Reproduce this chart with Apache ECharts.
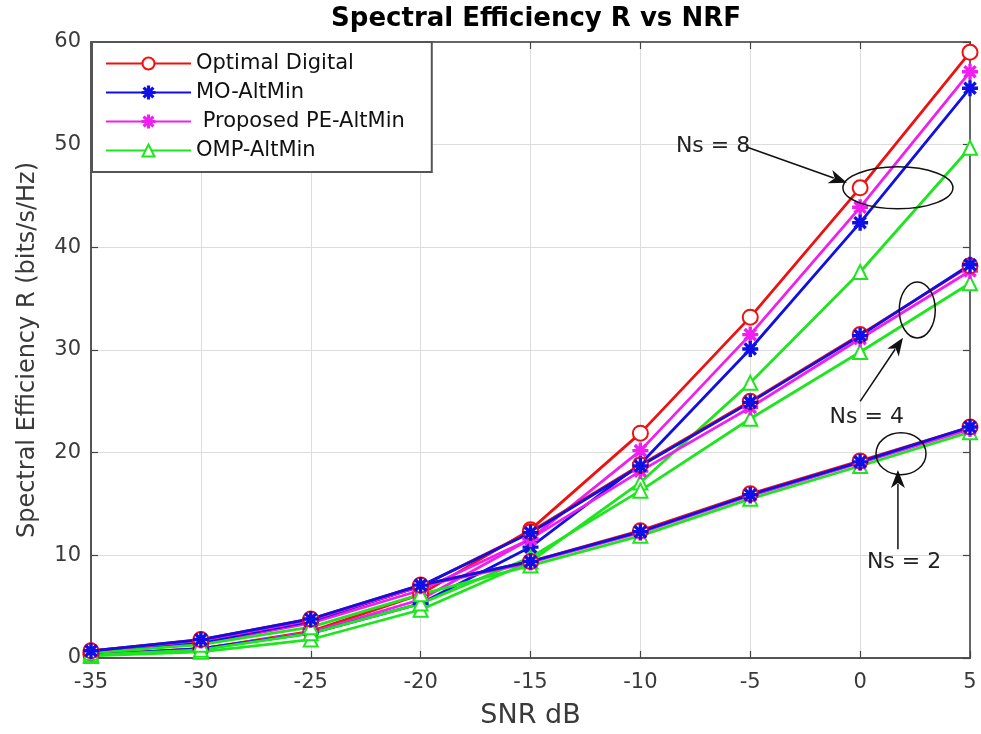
<!DOCTYPE html>
<html lang="en">
<head>
<meta charset="UTF-8">
<title>Spectral Efficiency R vs NRF</title>
<script src="https://cdn.jsdelivr.net/npm/echarts@6.0.0/dist/echarts.min.js"></script>
<style>html,body{margin:0;background:#fff}</style>
</head>
<body>
<div id="main" style="width:981px;height:734px;"></div>
<script>
// SNR points (dB)
const snr = [-35, -30, -25, -20, -15, -10, -5, 0, 5];
const methods = ['Optimal Digital', 'MO-AltMin', ' Proposed PE-AltMin', 'OMP-AltMin'];

// Ns = 8
const od8  = [0.3, 0.9, 2.6, 6.2, 12.5, 21.9, 33.2, 45.8, 59.0];
const mo8  = [0.3, 0.9, 2.4, 5.3, 10.8, 18.9, 30.1, 42.4, 55.5];
const pe8  = [0.3, 0.9, 2.5, 5.7, 11.6, 20.2, 31.5, 43.9, 57.1];
const omp8 = [0.2, 0.6, 1.8, 4.7, 9.4, 17.1, 26.8, 37.6, 49.7];
// Ns = 4
const od4  = [0.5, 1.5, 3.6, 7.0, 12.3, 18.8, 25.0, 31.5, 38.2];
const mo4  = [0.5, 1.5, 3.6, 7.0, 12.2, 18.7, 24.9, 31.4, 38.3];
const pe4  = [0.5, 1.4, 3.4, 6.6, 11.6, 18.2, 24.4, 31.1, 37.7];
const omp4 = [0.3, 0.8, 2.4, 5.3, 9.8, 16.3, 23.3, 29.8, 36.5];
// Ns = 2
const od2  = [0.7, 1.8, 3.8, 7.1, 9.4, 12.4, 16.0, 19.2, 22.5];
const mo2  = [0.7, 1.8, 3.8, 7.1, 9.4, 12.3, 15.9, 19.1, 22.5];
const pe2  = [0.7, 1.7, 3.7, 7.0, 9.3, 12.2, 15.8, 19.0, 22.3];
const omp2 = [0.5, 1.3, 3.0, 6.2, 9.0, 11.9, 15.5, 18.7, 22.0];

const yTicks = [0, 10, 20, 30, 40, 50, 60];

const colors = ['#f01010', '#1010e6', '#f01ff0', '#1ee61e'];
const star = 'path://M-1,-10L1,-10L1,10L-1,10Z M-10,-1L10,-1L10,1L-10,1Z ' +
    'M-7.7,-6.3L-6.3,-7.7L7.7,6.3L6.3,7.7Z M6.3,-7.7L7.7,-6.3L-6.3,7.7L-7.7,6.3Z';
const symbols = ['emptyCircle', star, star, 'emptyTriangle'];

const font = "'DejaVu Sans', sans-serif";

function mk(i, vals) {
    return {
        name: methods[i],
        type: 'line',
        data: snr.map((x, k) => [x, vals[k]]),
        symbol: symbols[i],
        symbolSize: i === 0 ? 15 : 14,
        lineStyle: {color: colors[i], width: 2.8},
        itemStyle: {color: colors[i], borderColor: colors[i], borderWidth: 2},
        emphasis: {disabled: true},
        z: 3
    };
}

const series = [
    mk(0, od8), mk(2, pe8), mk(1, mo8), mk(3, omp8),
    mk(3, omp4), mk(2, pe4), mk(0, od4), mk(1, mo4),
    mk(3, omp2), mk(2, pe2), mk(0, od2), mk(1, mo2)
];

const axisText = {color: '#3a3a3a', fontSize: 21, fontFamily: font};
const tick = {inside: true, length: 7, lineStyle: {color: '#444', width: 1.2}};

option = {
    backgroundColor: '#fff',
    animation: false,
    title: {
        text: 'Spectral Efficiency R vs NRF',
        left: 531, textAlign: 'center', top: 1,
        textStyle: {fontSize: 26, fontWeight: 'bold', color: '#000', fontFamily: font}
    },
    grid: {left: 91, right: 11, top: 42, bottom: 75, show: true,
        borderColor: '#666', borderWidth: 2, backgroundColor: '#fff'},
    legend: {
        data: methods,
        orient: 'vertical',
        left: 92, top: 42,
        padding: [11, 27, 11, 13],
        itemWidth: 85, itemHeight: 15, itemGap: 8,
        backgroundColor: '#fff', borderColor: '#555', borderWidth: 2,
        textStyle: {fontSize: 21, color: '#111', fontFamily: font},
        z: 10
    },
    xAxis: [{
        type: 'value', min: -35, max: 5, interval: 5,
        name: 'SNR dB', nameLocation: 'middle', nameGap: 44,
        nameTextStyle: {fontSize: 27, color: '#3a3a3a', fontFamily: font},
        axisLine: {show: true, onZero: false, lineStyle: {color: '#555', width: 2}},
        axisTick: tick,
        axisLabel: Object.assign({margin: 14}, axisText),
        splitLine: {show: true, lineStyle: {color: '#dcdcdc', width: 1}}
    }, {
        type: 'value', min: -35, max: 5, interval: 5, position: 'top',
        axisLine: {show: true, onZero: false, lineStyle: {color: '#666', width: 2}},
        axisTick: tick,
        axisLabel: {show: false}, splitLine: {show: false}
    }],
    yAxis: [{
        type: 'value', min: yTicks[0], max: yTicks[yTicks.length - 1], interval: 10,
        name: 'Spectral Efficiency R (bits/s/Hz)', nameLocation: 'middle', nameGap: 51,
        nameTextStyle: {fontSize: 24, color: '#3a3a3a', fontFamily: font},
        axisLine: {show: true, onZero: false, lineStyle: {color: '#555', width: 2}},
        axisTick: tick,
        axisLabel: Object.assign({margin: 10}, axisText),
        splitLine: {show: true, lineStyle: {color: '#dcdcdc', width: 1}}
    }, {
        type: 'value', min: 0, max: 60, interval: 10, position: 'right',
        axisLine: {show: true, onZero: false, lineStyle: {color: '#666', width: 2}},
        axisTick: tick,
        axisLabel: {show: false}, splitLine: {show: false}
    }],
    series: series
};

let myChart = echarts.init(document.getElementById('main'));
myChart.setOption(option);

// annotations, placed in data coordinates
function px(p) { return myChart.convertToPixel({xAxisIndex: 0, yAxisIndex: 0}, p); }
function arrow(from, to) {
    const a = px(from), b = px(to);
    const dx = b[0] - a[0], dy = b[1] - a[1], len = Math.sqrt(dx * dx + dy * dy);
    const ux = dx / len, uy = dy / len, hl = 18, hw = 7;
    const bx = b[0] - ux * hl, by = b[1] - uy * hl;
    return [{
        type: 'line', z: 20,
        shape: {x1: a[0], y1: a[1], x2: bx + ux * 4, y2: by + uy * 4},
        style: {stroke: '#111', lineWidth: 1.5}
    }, {
        type: 'polygon', z: 20,
        shape: {points: [[b[0], b[1]], [bx - uy * hw, by + ux * hw], [bx + ux * 5, by + uy * 5], [bx + uy * hw, by - ux * hw]]},
        style: {fill: '#111'}
    }];
}
function ellipse(c, rx, ry) {
    const p = px(c);
    return {type: 'ellipse', z: 20, shape: {cx: p[0], cy: p[1], rx: rx, ry: ry},
        style: {fill: null, stroke: '#111', lineWidth: 1.5}};
}
function label(t, p, align) {
    const q = px(p);
    return {type: 'text', z: 21, x: q[0], y: q[1],
        style: {text: t, fontSize: 22, fontFamily: font, fill: '#222', align: align, verticalAlign: 'middle'}};
}

const graphic = [].concat(
    [ellipse([1.72, 45.8], 55, 21)],
    arrow([-5.2, 49.8], [-0.6, 46.3]),
    [label('Ns = 8', [-5.0, 49.8], 'right')],
    [ellipse([2.6, 33.9], 18, 28)],
    arrow([0.0, 25.0], [1.95, 31.2]),
    [label('Ns = 4', [0.3, 23.4], 'center')],
    [ellipse([1.86, 19.9], 25, 21)],
    arrow([1.72, 10.6], [1.72, 18.3]),
    [label('Ns = 2', [2.0, 9.3], 'center')]
);
myChart.setOption({graphic: graphic});
</script>
</body>
</html>
